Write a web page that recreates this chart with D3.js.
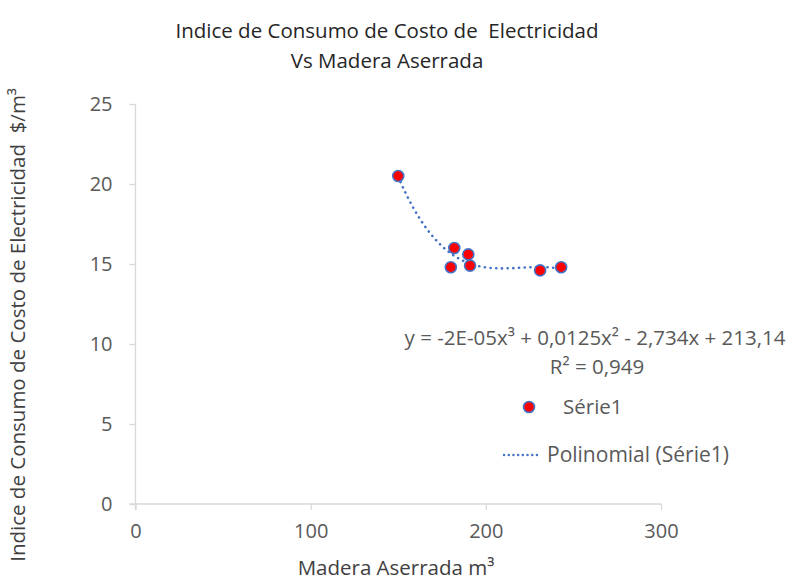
<!DOCTYPE html>
<html>
<head>
<meta charset="utf-8">
<script src="https://cdn.jsdelivr.net/npm/d3@7"></script>
<style>
  body { margin: 0; background: #fff; }
  svg { font-family: "Open Sans", "Noto Sans", sans-serif; }
  svg text { white-space: pre; }
  .axis path, .axis line { stroke: #d9d9d9; stroke-width: 1.3; }
  .axis text { fill: #595959; font-size: 20px; font-family: "Open Sans", sans-serif; }
</style>
</head>
<body>
<div id="chart"><svg width="794" height="581"></svg></div>
<script>
// data
const madera = [150, 182, 190, 180, 191, 231, 243];
const indice = [20.5, 16.0, 15.6, 14.8, 14.9, 14.6, 14.8];
const xTicks = [0, 100, 200, 300];
const yTicks = [0, 5, 10, 15, 20, 25];
const titleLines = ["Indice de Consumo de Costo de  Electricidad", "Vs Madera Aserrada"];
const eqText = "y = -2E-05x\u00b3 + 0,0125x\u00b2 - 2,734x + 213,14";
const r2Text = "R\u00b2 = 0,949";

const svg = d3.select("svg");
const margin = {top: 104, left: 135.5, right: 133, bottom: 77};
const width = 794, height = 581;

const x = d3.scaleLinear().domain([0, 300]).range([margin.left, width - margin.right]);
const y = d3.scaleLinear().domain([0, 25]).range([height - margin.bottom, margin.top]);

/***** AXES *****/
svg.append("g")
    .attr("class", "axis")
    .attr("transform", `translate(0, ${y(0)})`)
    .call(d3.axisBottom(x).tickValues(xTicks).tickSize(6).tickSizeOuter(0).tickPadding(14))
    .call(g => g.select(".domain").attr("d", `M${x(0) - 6},0H${x(300)}`));

svg.append("g")
    .attr("class", "axis")
    .attr("transform", `translate(${x(0)}, 0)`)
    .call(d3.axisLeft(y).tickValues(yTicks).tickSize(6).tickSizeOuter(0).tickPadding(17))
    .call(g => g.select(".domain").attr("d", `M0,${y(0) + 6}V${y(25)}`));

/***** TRENDLINE (cubic least squares on the points) *****/
function cubicFit(xs, ys) {
    const n = 4;
    const A = Array.from({length: n}, () => new Array(n + 1).fill(0));
    xs.forEach((xv, k) => {
        const p = [1, xv, xv * xv, xv * xv * xv];
        for (let i = 0; i < n; i++) {
            for (let j = 0; j < n; j++) A[i][j] += p[i] * p[j];
            A[i][n] += p[i] * ys[k];
        }
    });
    for (let i = 0; i < n; i++) {
        let m = i;
        for (let r = i + 1; r < n; r++) if (Math.abs(A[r][i]) > Math.abs(A[m][i])) m = r;
        [A[i], A[m]] = [A[m], A[i]];
        for (let r = 0; r < n; r++) {
            if (r === i) continue;
            const f = A[r][i] / A[i][i];
            for (let c = i; c <= n; c++) A[r][c] -= f * A[i][c];
        }
    }
    return A.map((row, i) => row[n] / row[i]);
}
// centre x to keep the fit well conditioned
const xMean = d3.mean(madera);
const coef = cubicFit(madera.map(v => v - xMean), indice);
const fitY = v => { const t = v - xMean; return coef[0] + coef[1] * t + coef[2] * t * t + coef[3] * t * t * t; };
const xs = d3.range(d3.min(madera), d3.max(madera) + 0.01, 1);

const line = d3.line().x(d => x(d)).y(d => y(fitY(d))).curve(d3.curveMonotoneX);
svg.append("path")
    .datum(xs)
    .attr("d", line)
    .attr("fill", "none")
    .attr("stroke", "#4472c4")
    .attr("stroke-width", 2.6)
    .attr("stroke-linecap", "round")
    .attr("stroke-dasharray", "0.1,5.6");

/***** POINTS *****/
svg.append("g").selectAll("circle")
    .data(madera.map((m, i) => ({x: m, y: indice[i]})))
    .join("circle")
    .attr("cx", d => x(d.x))
    .attr("cy", d => y(d.y))
    .attr("r", 5.5)
    .attr("fill", "#ff0000")
    .attr("stroke", "#4472c4")
    .attr("stroke-width", 1.6);

/***** TITLE & AXIS LABELS *****/
svg.append("text")
    .attr("x", 387).attr("y", 38)
    .attr("text-anchor", "middle")
    .style("font-size", "20.5px").style("fill", "#262626")
    .selectAll("tspan")
    .data(titleLines)
    .join("tspan")
    .attr("x", 387)
    .attr("dy", (d, i) => i === 0 ? 0 : 29.5)
    .text(d => d);

svg.append("text")
    .attr("x", 396).attr("y", 575)
    .attr("text-anchor", "middle")
    .style("font-size", "20.5px").style("fill", "#404040")
    .text("Madera Aserrada m\u00b3");

// y title: kept just inside the frame (the reference crops its first letter)
svg.append("text")
    .attr("transform", `translate(25, 88) rotate(-90)`)
    .attr("text-anchor", "end")
    .style("font-size", "20.5px").style("fill", "#404040")
    .text("Indice de Consumo de Costo de Electricidad  $/m\u00b3");

/***** EQUATION & LEGEND *****/
const note = svg.append("g").style("font-size", "20.5px").style("fill", "#595959");
note.append("text").attr("x", 595).attr("y", 345).attr("text-anchor", "middle").text(eqText);
note.append("text").attr("x", 597).attr("y", 374).attr("text-anchor", "middle").text(r2Text);

note.append("circle")
    .attr("cx", 529).attr("cy", 407).attr("r", 5.5)
    .attr("fill", "#ff0000").attr("stroke", "#4472c4").attr("stroke-width", 1.6);
note.append("text").attr("x", 563).attr("y", 414).text("S\u00e9rie1");

note.append("line")
    .attr("x1", 504).attr("x2", 541).attr("y1", 455).attr("y2", 455)
    .attr("stroke", "#4472c4").attr("stroke-width", 2.4)
    .attr("stroke-linecap", "round").attr("stroke-dasharray", "0.1,4.6");
note.append("text").attr("x", 547).attr("y", 462).style("font-size", "21px").text("Polinomial (S\u00e9rie1)");
</script>
</body>
</html>
